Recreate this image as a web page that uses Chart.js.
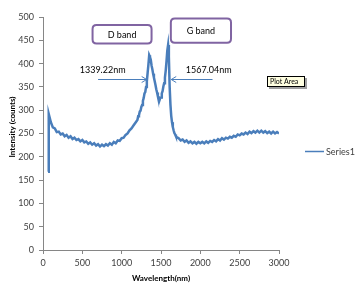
<!DOCTYPE html>
<html>
<head>
<meta charset="utf-8">
<script src="https://cdn.jsdelivr.net/npm/chart.js@4.4.0/dist/chart.umd.min.js"></script>
<style>
    html, body { margin: 0; padding: 0; background: #ffffff; }
    canvas { display: block; }
</style>
</head>
<body>
<canvas id="ramanChart" width="356" height="292"></canvas>
<script>
// ===========================
// Data
// ===========================

const seriesName = 'Series1';

const wavelengths = [
    64, 70, 76,
    100, 125, 150, 175, 200, 225, 250, 275, 300, 325, 350, 375, 400, 425, 450, 475,
    500, 525, 550, 575, 600, 625, 650, 675, 700, 725, 750, 775, 800, 825, 850, 875,
    900, 925, 950, 975, 1000, 1025, 1050, 1075, 1100, 1125, 1150, 1175,
    1200, 1210, 1220, 1230, 1240, 1250, 1260, 1270, 1280, 1290, 1300, 1310, 1320, 1330,
    1340, 1350, 1360, 1370, 1380, 1390, 1400, 1410, 1420, 1430, 1440, 1450, 1460, 1470,
    1480, 1490, 1500, 1510, 1520, 1530, 1540, 1550, 1560, 1570, 1580, 1590, 1600, 1610,
    1620, 1630, 1640, 1650, 1660, 1670, 1680, 1690, 1700,
    1725, 1750, 1775, 1800, 1825, 1850, 1875, 1900, 1925, 1950, 1975, 2000, 2025, 2050,
    2075, 2100, 2125, 2150, 2175, 2200, 2225, 2250, 2275, 2300, 2325, 2350, 2375, 2400,
    2425, 2450, 2475, 2500, 2525, 2550, 2575, 2600, 2625, 2650, 2675, 2700, 2725, 2750,
    2775, 2800, 2825, 2850, 2875, 2900, 2925, 2950, 2975, 3000
];

const intensities = [
    168, 230, 292,
    274, 263, 261, 253, 254, 248, 250, 244, 247, 241, 244, 238, 241, 236, 238, 233,
    236, 231, 233, 228, 231, 226, 229, 224, 227, 222, 226, 223, 227, 224, 229, 226,
    232, 229, 235, 234, 240, 241, 247, 250, 257, 261, 267, 273,
    279, 287, 289, 297, 299, 307, 311, 320, 326, 336, 339, 350, 362, 380,
    398, 418, 414, 408, 396, 388, 378, 370, 362, 354, 345, 338, 330, 328,
    321, 326, 327, 336, 341, 351, 358, 370, 385, 405, 428, 440, 415, 350,
    312, 288, 274, 264, 257, 251, 248, 244, 242,
    240, 235, 237, 232, 235, 230, 233, 229, 232, 228, 232, 229, 232, 229,
    233, 230, 234, 232, 236, 233, 238, 235, 240, 237, 241, 239, 243, 241,
    245, 243, 248, 246, 250, 248, 252, 249, 254, 251, 255, 252, 256, 252,
    256, 252, 255, 251, 254, 250, 254, 250, 253, 250
];

const xTicks = { min: 0, max: 3000, step: 500 };
const yTicks = { min: 0, max: 500, step: 50 };

const xTitle = 'Wavelength(nm)';
const yTitle = 'Intensity (counts)';

// callouts, placed in data units
const bandLabels = [
    { text: 'D band', x0: 630, x1: 1380, y0: 483, y1: 443 },
    { text: 'G band', x0: 1625, x1: 2390, y0: 497, y1: 445 }
];

const peakLabels = [
    { text: '1339.22nm', textX: 467, textY: 385, fromX: 700, toX: 1318, arrowY: 366 },
    { text: '1567.04nm', textX: 1815, textY: 385, fromX: 2155, toX: 1630, arrowY: 366 }
];

// ===========================
// Styles
// ===========================

const LINE_COLOR = '#4A7EBB';
const AXIS_COLOR = '#868686';
const TEXT_COLOR = '#404040';
const BOX_COLOR = '#8064A2';
const FONT = 'Lato';

// ===========================
// Decorations plugin
// ===========================

function roundRect(ctx, x, y, w, h, r) {
    ctx.beginPath();
    ctx.moveTo(x + r, y);
    ctx.lineTo(x + w - r, y);
    ctx.quadraticCurveTo(x + w, y, x + w, y + r);
    ctx.lineTo(x + w, y + h - r);
    ctx.quadraticCurveTo(x + w, y + h, x + w - r, y + h);
    ctx.lineTo(x + r, y + h);
    ctx.quadraticCurveTo(x, y + h, x, y + h - r);
    ctx.lineTo(x, y + r);
    ctx.quadraticCurveTo(x, y, x + r, y);
    ctx.closePath();
}

const decorations = {
    id: 'decorations',
    afterDraw(chart) {
        const ctx = chart.ctx;
        const xs = chart.scales.x;
        const ys = chart.scales.y;
        const area = chart.chartArea;

        ctx.save();

        // band boxes
        bandLabels.forEach(b => {
            const x = xs.getPixelForValue(b.x0);
            const y = ys.getPixelForValue(b.y0);
            const w = xs.getPixelForValue(b.x1) - x;
            const h = ys.getPixelForValue(b.y1) - y;
            roundRect(ctx, x, y, w, h, 4);
            ctx.fillStyle = '#ffffff';
            ctx.fill();
            ctx.lineWidth = 2;
            ctx.strokeStyle = BOX_COLOR;
            ctx.stroke();
            ctx.fillStyle = '#000000';
            ctx.font = `9px ${FONT}`;
            ctx.textAlign = 'center';
            ctx.textBaseline = 'middle';
            ctx.fillText(b.text, x + w / 2, y + h / 2 + 1);
        });

        // peak arrows
        peakLabels.forEach(p => {
            const x1 = xs.getPixelForValue(p.fromX);
            const x2 = xs.getPixelForValue(p.toX);
            const y = Math.round(ys.getPixelForValue(p.arrowY)) + 0.5;
            const dir = x2 > x1 ? 1 : -1;
            ctx.strokeStyle = LINE_COLOR;
            ctx.lineWidth = 1;
            ctx.beginPath();
            ctx.moveTo(x1, y);
            ctx.lineTo(x2, y);
            ctx.moveTo(x2 - dir * 5, y - 3);
            ctx.lineTo(x2, y);
            ctx.lineTo(x2 - dir * 5, y + 3);
            ctx.stroke();

            ctx.fillStyle = '#000000';
            ctx.font = `9px ${FONT}`;
            ctx.textAlign = 'left';
            ctx.textBaseline = 'middle';
            ctx.fillText(p.text, xs.getPixelForValue(p.textX), ys.getPixelForValue(p.textY));
        });

        // "Plot Area" hover tip
        ctx.fillStyle = '#a0a0a0';
        ctx.fillRect(269, 78, 38, 11);
        ctx.fillStyle = '#ffffe1';
        ctx.fillRect(267, 76, 38, 11);
        ctx.strokeStyle = '#000000';
        ctx.lineWidth = 1;
        ctx.strokeRect(267.5, 76.5, 37, 10);
        ctx.fillStyle = '#000000';
        ctx.font = `7px ${FONT}`;
        ctx.textAlign = 'left';
        ctx.textBaseline = 'middle';
        ctx.fillText('Plot Area', 270, 82);

        // legend
        const ds = chart.data.datasets[0];
        ctx.strokeStyle = ds.borderColor;
        ctx.lineWidth = 1.5;
        ctx.beginPath();
        ctx.moveTo(305, 151.5);
        ctx.lineTo(324, 151.5);
        ctx.stroke();
        ctx.fillStyle = TEXT_COLOR;
        ctx.font = `9px ${FONT}`;
        ctx.fillText(ds.label, 326, 152);

        // axis titles
        ctx.fillStyle = '#000000';
        ctx.font = `bold 8px ${FONT}`;
        ctx.textAlign = 'center';
        ctx.fillText(xTitle, (area.left + area.right) / 2, 278);
        ctx.translate(12, 127);
        ctx.rotate(-Math.PI / 2);
        ctx.fillText(yTitle, 0, 0);

        ctx.restore();
    }
};

// ===========================
// Chart
// ===========================

const points = wavelengths.map((w, i) => ({ x: w, y: intensities[i] }));

new Chart(document.getElementById('ramanChart'), {
    type: 'line',
    data: {
        datasets: [{
            label: seriesName,
            data: points,
            borderColor: LINE_COLOR,
            borderWidth: 2.5,
            pointRadius: 0,
            tension: 0,
            fill: false
        }]
    },
    options: {
        responsive: false,
        animation: false,
        layout: {
            padding: { top: 17, right: 77, bottom: 0, left: 0 }
        },
        plugins: {
            legend: { display: false },
            tooltip: { enabled: false }
        },
        scales: {
            x: {
                type: 'linear',
                min: xTicks.min,
                max: xTicks.max,
                afterFit(scale) { scale.height = 42; },
                grid: {
                    drawOnChartArea: false,
                    tickLength: 4,
                    color: AXIS_COLOR
                },
                border: { color: AXIS_COLOR },
                ticks: {
                    stepSize: xTicks.step,
                    maxRotation: 0,
                    padding: 4,
                    color: TEXT_COLOR,
                    font: { family: FONT, size: 9 },
                    callback: value => String(value)
                }
            },
            y: {
                min: yTicks.min,
                max: yTicks.max,
                afterFit(scale) { scale.width = 43; },
                grid: {
                    drawOnChartArea: false,
                    tickLength: 4,
                    color: AXIS_COLOR
                },
                border: { color: AXIS_COLOR },
                ticks: {
                    stepSize: yTicks.step,
                    padding: 5,
                    color: TEXT_COLOR,
                    font: { family: FONT, size: 9 }
                }
            }
        }
    },
    plugins: [decorations]
});
</script>
</body>
</html>
